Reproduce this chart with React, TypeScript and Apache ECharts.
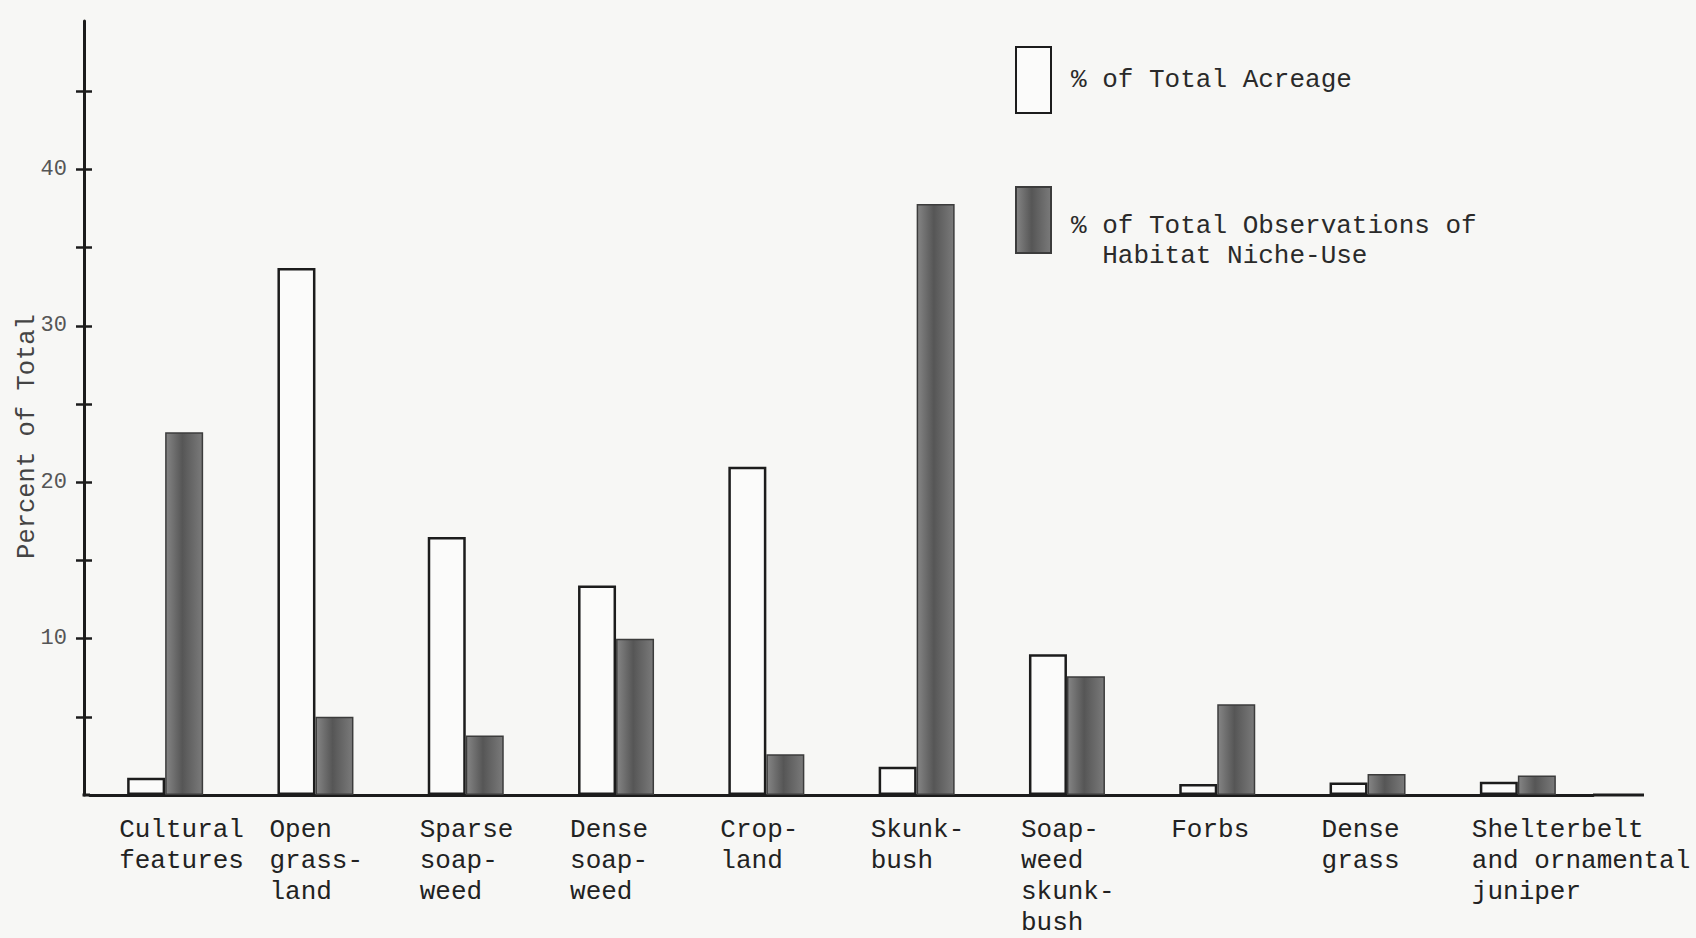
import React, { useEffect, useRef } from "react";
import * as echarts from "echarts";

const categories = [
  "Cultural\nfeatures",
  "Open\ngrass-\nland",
  "Sparse\nsoap-\nweed",
  "Dense\nsoap-\nweed",
  "Crop-\nland",
  "Skunk-\nbush",
  "Soap-\nweed\nskunk-\nbush",
  "Forbs",
  "Dense\ngrass",
  "Shelterbelt\nand ornamental\njuniper",
];
const acreage = [1.1, 33.7, 16.5, 13.4, 21.0, 1.8, 9.0, 0.7, 0.8, 0.85];
const observations = [23.2, 5.0, 3.8, 10.0, 2.6, 37.8, 7.6, 5.8, 1.35, 1.25];
const tickValues = [5, 10, 15, 20, 25, 30, 35, 40, 45];
const labelValues = [10, 20, 30, 40];
const seriesNames = ["% of Total Acreage", "% of Total Observations of\n  Habitat Niche-Use"];
const yAxisName = "Percent of Total";

const FONT = "'Liberation Mono', 'Courier New', monospace";
const INK = "#1c1c1c";

const GRID_LEFT = 90;
const GRID_WIDTH = 1503;
const AXIS_X = 84;
const AXIS_END = 1644;

export default function App() {
  const ref = useRef<HTMLDivElement>(null);
  useEffect(() => {
    if (!ref.current) return;
    document.body.style.margin = "0";
    const chart = echarts.init(ref.current, null, { renderer: "svg" });
    const darkFill = new echarts.graphic.LinearGradient(0, 0, 1, 0, [
      { offset: 0, color: "#858585" },
      { offset: 0.45, color: "#565656" },
      { offset: 1, color: "#7a7a7a" },
    ]);
    chart.setOption({
      animation: false,
      backgroundColor: "#f7f7f5",
      grid: { left: GRID_LEFT, width: GRID_WIDTH, top: 21, bottom: 140 },
      legend: {
        orient: "vertical",
        left: 1015,
        top: 46,
        padding: 0,
        itemWidth: 35,
        itemHeight: 66,
        itemGap: 71,
        icon: "rect",
        formatter: (name: string) =>
          name === seriesNames[1]
            ? "{sp| }\n{t|% of Total Observations of}\n{t|  Habitat Niche-Use}"
            : "{t|" + name + "}",
        textStyle: {
          fontFamily: FONT,
          fontSize: 26,
          color: "#2a2a2a",
          padding: [0, 0, 0, 15],
          rich: {
            t: { fontFamily: FONT, fontSize: 26, color: "#2a2a2a", lineHeight: 30 },
            sp: { fontFamily: FONT, fontSize: 10, lineHeight: 42 },
          },
        },
        data: [{ name: seriesNames[0] }, { name: seriesNames[1] }],
      },
      xAxis: {
        type: "category",
        data: categories,
        axisLine: { lineStyle: { color: INK, width: 3 } },
        axisTick: { show: false },
        axisLabel: {
          interval: 0,
          align: "left",
          padding: [0, 0, 0, -46],
          margin: 19,
          fontFamily: FONT,
          fontSize: 26,
          lineHeight: 31,
          color: "#222",
        },
      },
      yAxis: [
        {
          type: "value",
          min: 0,
          max: 49.5,
          offset: GRID_LEFT - AXIS_X,
          name: yAxisName,
          nameLocation: "middle",
          nameGap: 44,
          nameMoveOverlap: false,
          nameTextStyle: { fontFamily: FONT, fontSize: 25.5, color: "#444", padding: [0, 57, 0, 0] },
          splitLine: { show: false },
          axisLine: { show: true, lineStyle: { color: INK, width: 3 } },
          axisTick: { show: true, length: 8, customValues: tickValues, lineStyle: { color: INK, width: 2.5 } },
          axisLabel: {
            customValues: labelValues,
            margin: 17,
            fontFamily: FONT,
            fontSize: 22,
            color: "#555",
          },
        },
        {
          type: "value",
          min: 0,
          max: 49.5,
          position: "left",
          offset: GRID_LEFT - AXIS_X,
          splitLine: { show: false },
          axisLine: { show: false },
          axisTick: { show: true, inside: true, length: 8, customValues: tickValues, lineStyle: { color: INK, width: 2.5 } },
          axisLabel: { show: false },
        },
      ],
      series: [
        {
          name: seriesNames[0],
          type: "bar",
          data: acreage,
          barWidth: 38,
          barGap: "0%",
          itemStyle: { color: "#fbfbfa", borderColor: INK, borderWidth: 2.5 },
        },
        {
          name: seriesNames[1],
          type: "bar",
          data: observations,
          barWidth: 38,
          itemStyle: { color: darkFill, borderColor: "#3c3c3c", borderWidth: 1.5 },
        },
      ],
    });
    const y0 = chart.convertToPixel({ yAxisIndex: 0 }, 0) as number;
    chart.setOption({
      graphic: [
        {
          type: "line",
          shape: { x1: AXIS_X - 1.5, y1: y0, x2: GRID_LEFT, y2: y0 },
          style: { stroke: INK, lineWidth: 3 },
        },
        {
          type: "line",
          shape: { x1: GRID_LEFT + GRID_WIDTH, y1: y0, x2: AXIS_END, y2: y0 },
          style: { stroke: INK, lineWidth: 3 },
        },
      ],
    });
    return () => chart.dispose();
  }, []);
  return (
    <div
      ref={ref}
      style={{ position: "fixed", left: 0, top: 0, width: 1696, height: 938, background: "#f7f7f5" }}
    />
  );
}
